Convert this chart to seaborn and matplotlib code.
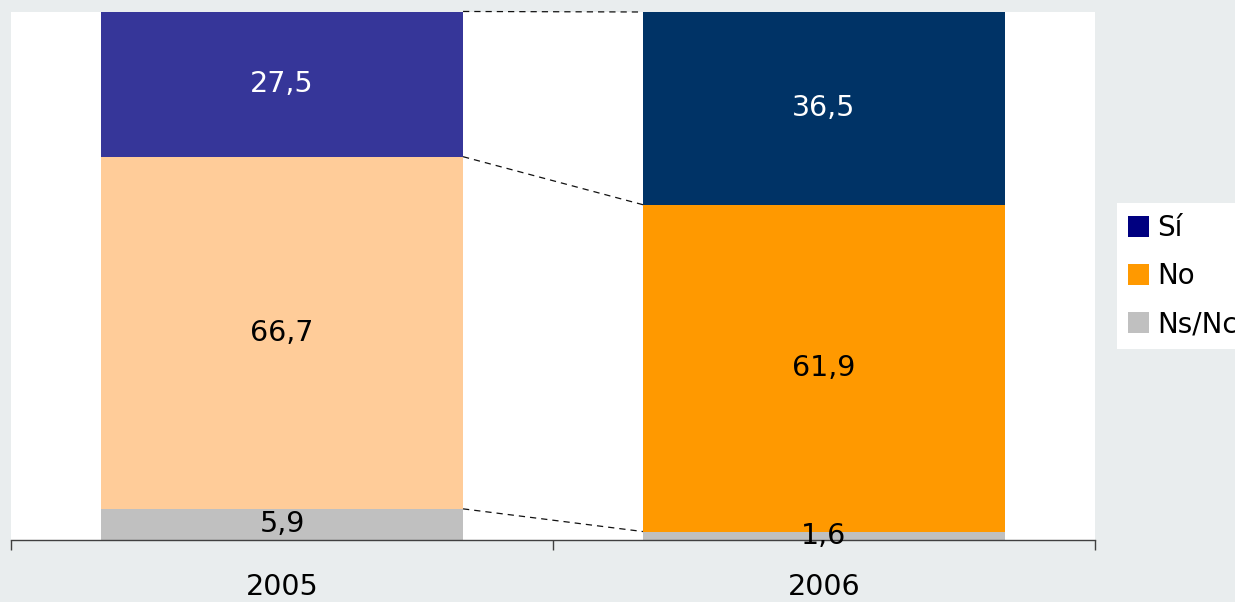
import matplotlib
matplotlib.use("Agg")
import matplotlib.pyplot as plt
from matplotlib.patches import Patch
import seaborn as sns
import numpy as np
import pandas as pd

# ---- data ----
years = ["2005", "2006"]
si = [27.5, 36.5]
no = [66.7, 61.9]
nsnc = [5.9, 1.6]
series_names = ["Sí", "No", "Ns/Nc"]

# colours per segment per year
si_colors = ["#363699", "#003366"]
no_colors = ["#FFCC99", "#FF9900"]
ns_colors = ["#C0C0C0", "#C0C0C0"]
legend_colors = ["#000080", "#FF9900", "#C0C0C0"]
label_colors = {"Sí": "white", "No": "black", "Ns/Nc": "black"}

sns.set_theme(style="white")
plt.rcParams["font.family"] = ["DejaVu Sans"]
plt.rcParams["text.color"] = "black"

bg = "#E9EDEE"
fig = plt.figure(figsize=(12.35, 6.02), dpi=100, facecolor=bg)
ax = fig.add_axes([11 / 1235, 1 - 540 / 602, (1095 - 11) / 1235, (540 - 12) / 602])
ax.set_facecolor("white")

ns_arr = np.array(nsnc)
no_arr = np.array(no)
si_arr = np.array(si)
cum_ns = ns_arr
cum_no = ns_arr + no_arr
cum_si = ns_arr + no_arr + si_arr

bar_w = 0.668
layers = [(cum_si, si_colors), (cum_no, no_colors), (cum_ns, ns_colors)]
for vals, cols in layers:
    df = pd.DataFrame({"year": years, "val": vals})
    sns.barplot(data=df, x="year", y="val", hue="year", palette=cols,
                width=bar_w, legend=False, ax=ax, saturation=1,
                linewidth=0, edgecolor="none")

# value labels
fs = 20.5
for i in range(len(years)):
    segs = [("Ns/Nc", 0, nsnc[i]), ("No", nsnc[i], no[i]), ("Sí", nsnc[i] + no[i], si[i])]
    for name, base, v in segs:
        txt = f"{v:.1f}".replace(".", ",")
        ax.text(i, base + v / 2, txt, ha="center", va="center",
                fontsize=fs, color=label_colors[name])

# dashed connectors
half = bar_w / 2
for a in [cum_si, cum_no, cum_ns]:
    ax.plot([0 + half, 1 - half], [a[0], a[1]], ls=(0, (5, 4)), color="#111111",
            lw=0.9, zorder=3, clip_on=False)

ax.set_xlim(-0.5, 1.5)
ax.set_ylim(0, 100)
ax.set_xlabel("")
ax.set_ylabel("")
ax.set_yticks([])
for s in ["left", "right", "top"]:
    ax.spines[s].set_visible(False)
ax.spines["bottom"].set_color("#404040")
ax.spines["bottom"].set_linewidth(1.0)

ax.set_xticks([0, 1])
ax.set_xticklabels(years, fontsize=fs, color="black")
ax.tick_params(axis="x", which="major", length=0, pad=24, labelcolor="black")
ax.set_xticks([-0.5, 0.5, 1.5], minor=True)
ax.tick_params(axis="x", which="minor", length=7, width=1, color="#404040",
               direction="out", bottom=True)

handles = [Patch(facecolor=c, edgecolor="none") for c in legend_colors]
leg = fig.legend(handles, series_names, loc="upper left",
                 bbox_to_anchor=(1117 / 1235, 1 - 203 / 602),
                 frameon=True, fancybox=False, fontsize=20, framealpha=1,
                 handlelength=0.75, handleheight=0.75, handletextpad=0.3,
                 labelspacing=0.72, borderpad=0.4, borderaxespad=0,
                 labelcolor="black")
leg.get_frame().set_facecolor("white")
leg.get_frame().set_edgecolor("white")
leg.get_frame().set_linewidth(0)

fig.savefig("out.png", dpi=100, facecolor=bg)
